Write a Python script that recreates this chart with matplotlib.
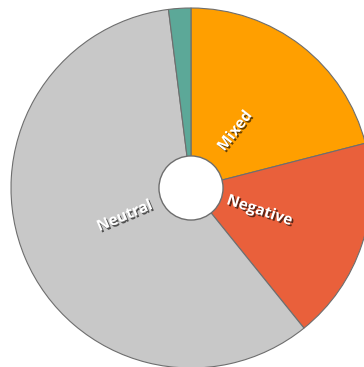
import numpy as np
import matplotlib
matplotlib.use("Agg")
import matplotlib.pyplot as plt
import matplotlib.patheffects as pe
from matplotlib.patches import Circle

categories = ["Mixed", "Negative", "Neutral", "Positive"]
shares = [21, 18.2, 58.8, 2]
colors = ["#FF9F00", "#E9603B", "#C8C8C8", "#5CA898"]
show_label = [True, True, True, False]

fig = plt.figure(figsize=(3.64, 3.67), dpi=100)
ax = fig.add_axes([11 / 364, -1 / 367, 360 / 364, 360 / 367])

wedges, _ = ax.pie(shares, colors=colors, startangle=90, counterclock=False,
                   radius=1.0,
                   wedgeprops=dict(edgecolor="#6E6E6E", linewidth=0.8))

# hole in the middle
ax.add_patch(Circle((0, 0), 0.178, facecolor="white", edgecolor="#6E6E6E",
                    linewidth=1.0, zorder=5))

shadow = [pe.withSimplePatchShadow(offset=(1.2, -1.2), shadow_rgbFace="black", alpha=0.6)]
for w, name, show in zip(wedges, categories, show_label):
    if not show:
        continue
    mid = np.deg2rad((w.theta1 + w.theta2) / 2)
    r = 0.40
    x, y = r * np.cos(mid), r * np.sin(mid)
    rot = np.rad2deg(mid)
    if rot > 90:
        rot -= 180
    elif rot < -90:
        rot += 180
    ax.text(x, y, name, rotation=rot, rotation_mode="anchor",
            ha="center", va="center", color="white", fontsize=11,
            fontweight="bold", family=["Open Sans", "DejaVu Sans"],
            path_effects=shadow, zorder=6)

ax.set_xlim(-1, 1)
ax.set_ylim(-1, 1)
ax.set_aspect("equal")
ax.axis("off")

fig.savefig("out.png", dpi=100)
